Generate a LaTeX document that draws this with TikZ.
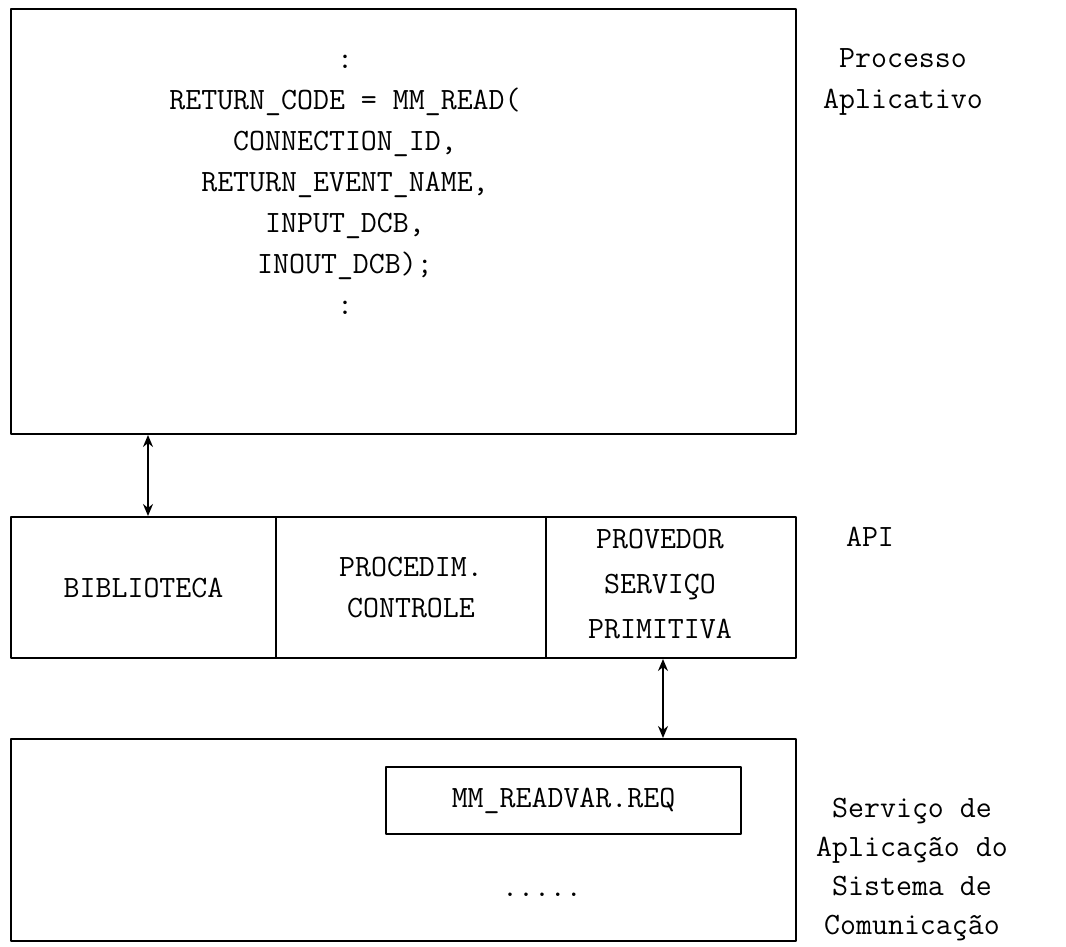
\documentclass[tikz,border=0pt]{standalone}
\usepackage{tikz}
\usetikzlibrary{arrows.meta,calc}

\begin{document}
\begin{tikzpicture}[x=0.5pt,y=-0.5pt,>={Stealth[length=6pt,width=5pt]},line join=round,
  box/.style={draw,line width=1pt,inner sep=0pt,anchor=north west},
  txt/.style={font=\fontsize{15.5}{20.5}\selectfont\ttfamily,align=center,inner sep=0pt},
  link/.style={<->,line width=0.9pt}]
  \useasboundingbox (0,0) rectangle (1066,947);
  % boxes
  \node[box,minimum width=392.5pt,minimum height=212.5pt] (proc) at (10,8) {};
  \node[box,minimum width=132.5pt,minimum height=70.5pt] (lib) at (10,516) {};
  \node[box,minimum width=135pt,minimum height=70.5pt] (ctl) at (275,516) {};
  \node[box,minimum width=125pt,minimum height=70.5pt] (prov) at (545,516) {};
  \node[box,minimum width=392.5pt,minimum height=101pt] (svc) at (10,738) {};
  \node[box,minimum width=177.5pt,minimum height=33.5pt] (req) at (385,766) {};
  % texts
  \node[txt] (call) at (345,185) {:\\RETURN\_CODE = MM\_READ(\\CONNECTION\_ID,\\RETURN\_EVENT\_NAME,\\INPUT\_DCB,\\INOUT\_DCB);\\:};
  \node[txt] (libtxt) at (lib.center) {BIBLIOTECA};
  \node[txt] (ctltxt) at (ctl.center) {PROCEDIM.\\CONTROLE};
  \node[txt,font=\fontsize{15.5}{22.5}\selectfont\ttfamily] (provtxt) at (660,584) {PROVEDOR\\SERVIÇO\\PRIMITIVA};
  \node[txt] (reqtxt) at (req.center) {MM\_READVAR.REQ};
  \node[txt] (dots) at (542,895) {.....};
  % labels at the right
  \node[txt] (lproc) at (903,82) {Processo\\Aplicativo};
  \node[txt] (lapi) at (870,537) {API};
  \node[txt,font=\fontsize{15.5}{19.5}\selectfont\ttfamily] (lsvc) at (912,870) {Serviço de\\Aplicação do\\Sistema de\\Comunicação};
  % arrows
  \coordinate (a1) at (148,0);
  \coordinate (a2) at (663,0);
  \draw[link] (a1 |- proc.south) -- (a1 |- lib.north);
  \draw[link] (a2 |- prov.south) -- (a2 |- svc.north);
\end{tikzpicture}
\end{document}
